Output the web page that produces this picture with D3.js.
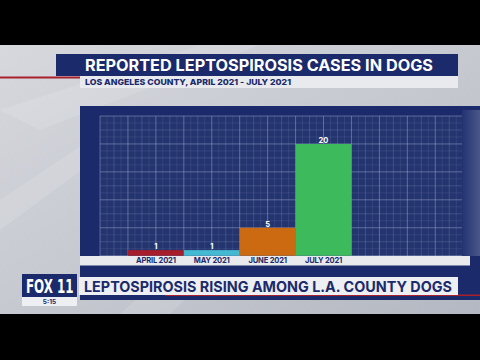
<!DOCTYPE html>
<html><head><meta charset="utf-8">
<script src="https://cdn.jsdelivr.net/npm/d3@7"></script>
<style>html,body{margin:0;padding:0;background:#000;}svg{display:block;}</style>
</head><body>
<svg id="c" width="480" height="360"></svg>
<script>
const categories = ["APRIL 2021", "MAY 2021", "JUNE 2021", "JULY 2021"];
const cases = [1, 1, 5, 20];
const barColors = ["#a61d2b", "#45b9d2", "#cc6a12", "#3dbb5c"];
const title = "REPORTED LEPTOSPIROSIS CASES IN DOGS";
const subtitle = "LOS ANGELES COUNTY, APRIL 2021 - JULY 2021";
const banner = "LEPTOSPIROSIS RISING AMONG L.A. COUNTY DOGS";
const logo = "FOX 11";
const clock = "5:15";

const svg = d3.select("#c");
const navy = "#1b2a6a";
const font = "Inter, 'Open Sans', sans-serif";

const defs = svg.append("defs");
const bg = defs.append("linearGradient").attr("id","bg").attr("x1","0").attr("y1","0").attr("x2","1").attr("y2","1");
bg.append("stop").attr("offset","0").attr("stop-color","#d6d8dd");
bg.append("stop").attr("offset","0.5").attr("stop-color","#c6c9d0");
bg.append("stop").attr("offset","1").attr("stop-color","#b4b8c2");
const pr = defs.append("linearGradient").attr("id","pr").attr("x1","0").attr("x2","1");
pr.append("stop").attr("offset","0").attr("stop-color","#233372");
pr.append("stop").attr("offset","1").attr("stop-color","#4a5788");

// letterbox + background
svg.append("rect").attr("width",480).attr("height",360).attr("fill","#000");
svg.append("rect").attr("x",0).attr("y",45).attr("width",480).attr("height",269).attr("fill","url(#bg)");
// streaks
const streaks = [[0,110,200,45,260,45,40,130],[120,314,300,150,340,150,170,314],[0,200,120,120,150,120,0,230]];
svg.append("g").selectAll("polygon").data(streaks).join("polygon")
  .attr("points", d => `${d[0]},${d[1]} ${d[2]},${d[3]} ${d[4]},${d[5]} ${d[6]},${d[7]}`)
  .attr("fill","#ffffff").attr("opacity",0.12);

// title banner
svg.append("rect").attr("x",56).attr("y",54).attr("width",402).attr("height",22).attr("fill",navy);
svg.append("text").attr("x",85).attr("y",70.8).attr("fill","#fff")
  .attr("font-family",font).attr("font-weight",700).attr("font-size",15.8)
  .attr("textLength",348).attr("lengthAdjust","spacingAndGlyphs").text(title);
// subtitle band
svg.append("rect").attr("x",80).attr("y",76).attr("width",378).attr("height",12).attr("fill","#e9eaee");
svg.append("rect").attr("x",0).attr("y",76.5).attr("width",80).attr("height",2).attr("fill","#a8202c");
svg.append("text").attr("x",85).attr("y",85.3).attr("fill",navy)
  .attr("font-family",font).attr("font-weight",800).attr("font-size",8.2)
  .attr("textLength",206).attr("lengthAdjust","spacingAndGlyphs").text(subtitle);

// chart panel
svg.append("rect").attr("x",80).attr("y",106).attr("width",400).attr("height",194).attr("fill",navy);
svg.append("rect").attr("x",462).attr("y",110).attr("width",18).attr("height",146).attr("fill","url(#pr)");

// scales
const y = d3.scaleLinear().domain([0,25]).range([255.7,116]);
const gx = d3.scaleLinear().domain([0,65]).range([100,100+65*(255.7-116)/25]);
const x = d3.scaleBand().domain(categories).range([gx(5), gx(45)]).padding(0);

// grid area
svg.append("rect").attr("x",100).attr("y",116).attr("width",362).attr("height",140).attr("fill","#23346f");
const grid = svg.append("g");
const xMinor = d3.range(0, 65.01, 1.25).filter(v => v*4 % 10 !== 0);
const xMid = d3.range(0, 65.01, 2.5).filter(v => v % 5 !== 0);
const xMajor = d3.range(0, 65.01, 5);
const yMinor = d3.range(0, 25.01, 1.25).filter(v => v*4 % 10 !== 0);
const yMid = d3.range(0, 25.01, 2.5).filter(v => v % 5 !== 0);
const yMajor = d3.range(0, 25.01, 5);
function vlines(vals, op){ grid.append("g").selectAll("line").data(vals.filter(v=>gx(v)<=462)).join("line")
  .attr("x1",d=>gx(d)).attr("x2",d=>gx(d)).attr("y1",116).attr("y2",256).attr("stroke","#a9b3d8").attr("stroke-opacity",op).attr("stroke-width",1); }
function hlines(vals, op){ grid.append("g").selectAll("line").data(vals).join("line")
  .attr("y1",d=>y(d)).attr("y2",d=>y(d)).attr("x1",100).attr("x2",462).attr("stroke","#a9b3d8").attr("stroke-opacity",op).attr("stroke-width",1); }
vlines(xMinor,0.12); hlines(yMinor,0.12);
vlines(xMid,0.22); hlines(yMid,0.22);
vlines(xMajor,0.45); hlines(yMajor,0.45);

// bars
svg.append("g").selectAll("rect").data(cases).join("rect")
  .attr("x",(d,i)=>x(categories[i])).attr("width",x.bandwidth())
  .attr("y",d=>y(d)).attr("height",d=>y(0)-y(d))
  .attr("fill",(d,i)=>barColors[i]);
svg.append("g").selectAll("text").data(cases).join("text")
  .attr("x",(d,i)=>x(categories[i])+x.bandwidth()/2).attr("y",d=>y(d)-1)
  .attr("text-anchor","middle").attr("fill","#fff").attr("font-family",font)
  .attr("font-weight",700).attr("font-size",7.5).text(d=>d);

// x label band
svg.append("rect").attr("x",80).attr("y",256).attr("width",390).attr("height",9.5).attr("fill","#e9eaee");
const xAxis = svg.append("g").attr("transform","translate(0,256)")
  .call(d3.axisBottom(x).tickSize(0).tickPadding(0));
xAxis.select(".domain").remove();
xAxis.selectAll("text").attr("fill",navy).attr("font-family",font).attr("font-weight",700)
  .attr("font-size",7.6).attr("dy",0).attr("y",7.4).style("letter-spacing","-0.2px");

// lower banner
svg.append("rect").attr("x",80).attr("y",296).attr("width",400).attr("height",4).attr("fill",navy);
svg.append("rect").attr("x",165).attr("y",294.5).attr("width",315).attr("height",1.5).attr("fill","#a8202c");
svg.append("rect").attr("x",79).attr("y",277).attr("width",379).attr("height",18).attr("fill","#eeeff2");
svg.append("text").attr("x",84).attr("y",291.7).attr("fill",navy)
  .attr("font-family",font).attr("font-weight",700).attr("font-size",15)
  .attr("textLength",368).attr("lengthAdjust","spacingAndGlyphs").text(banner);
// logo
svg.append("rect").attr("x",22).attr("y",274).attr("width",55).attr("height",23).attr("fill",navy);
svg.append("rect").attr("x",22).attr("y",297).attr("width",55).attr("height",9).attr("fill","#eeeff2");
svg.append("text").attr("transform","translate(26,292.7) scale(0.7,1)").attr("fill","#fff")
  .attr("font-family","'DejaVu Sans Condensed', 'Liberation Sans Narrow', sans-serif").attr("font-weight",700).attr("font-size",20)
  .attr("textLength",68).attr("lengthAdjust","spacingAndGlyphs").text(logo);
svg.append("text").attr("x",49.5).attr("y",304).attr("text-anchor","middle").attr("fill",navy)
  .attr("font-family",font).attr("font-weight",700).attr("font-size",6.5).text(clock);
</script>
</body></html>
